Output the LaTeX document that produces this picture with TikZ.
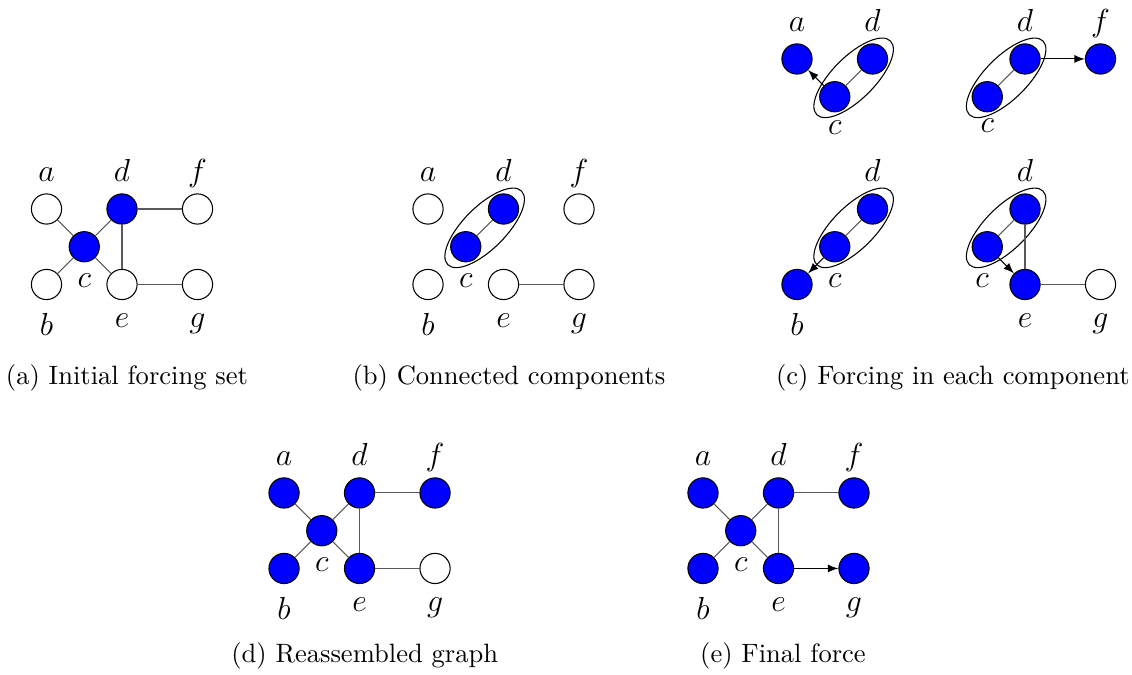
\documentclass[tikz,border=0pt]{standalone}
\usetikzlibrary{positioning,shapes.geometric,arrows}
\begin{document}
\begin{tikzpicture}[
  vtx/.style={circle, draw, fill=white, minimum size=0.4cm, inner sep=0pt},
  blue vtx/.style={vtx, fill=blue},
  up lbl/.style={font=\large, inner sep=0pt, text depth=0pt},
  down lbl/.style={font=\large, inner sep=0pt},
  edge/.style={draw=black!65},
  force/.style={->, >=latex},
  comp/.style={draw, ellipse, rotate=45, minimum width=1.38cm, minimum height=0.56cm, inner sep=0pt},
  subcap/.style={font=\normalsize, anchor=base}
]
\useasboundingbox (0,0) rectangle (14.993,8.940);

% (a) Initial forcing set
\begin{scope}[shift={(0.616,6.172)}]
  \node[vtx] (a1) at (0,0) {};
  \node[blue vtx] (d1) at (1,0) {};
  \node[vtx] (f1) at (2,0) {};
  \node[blue vtx] (c1) at (0.5,-0.5) {};
  \node[vtx] (b1) at (0,-1) {};
  \node[vtx] (e1) at (1,-1) {};
  \node[vtx] (g1) at (2,-1) {};
\end{scope}
\node[up lbl, above=4.1pt of a1] (la1) {$a$};
\node[up lbl, above=4.1pt of d1] (ld1) {$d$};
\node[up lbl, above=4.1pt of f1] (lf1) {$f$};
\node[down lbl, below=4.1pt of c1] (lc1) {$c$};
\node[down lbl, below=4.9pt of b1] (lb1) {$b$};
\node[down lbl, below=4.9pt of e1] (le1) {$e$};
\node[down lbl, below=4.9pt of g1] (lg1) {$g$};
\foreach \u/\v in {a1/c1, b1/c1, c1/d1, c1/e1, d1/e1, d1/f1, e1/g1}
  \draw[edge] (\u) -- (\v);

% (b) Connected components
\begin{scope}[shift={(5.669,6.172)}]
  \node[vtx] (a2) at (0,0) {};
  \node[blue vtx] (d2) at (1,0) {};
  \node[vtx] (f2) at (2,0) {};
  \node[blue vtx] (c2) at (0.5,-0.5) {};
  \node[vtx] (b2) at (0,-1) {};
  \node[vtx] (e2) at (1,-1) {};
  \node[vtx] (g2) at (2,-1) {};
  \node[comp] (k2) at (0.75,-0.25) {};
\end{scope}
\node[up lbl, above=4.1pt of a2] (la2) {$a$};
\node[up lbl, above=4.1pt of d2] (ld2) {$d$};
\node[up lbl, above=4.1pt of f2] (lf2) {$f$};
\node[down lbl, below=4.1pt of c2] (lc2) {$c$};
\node[down lbl, below=4.9pt of b2] (lb2) {$b$};
\node[down lbl, below=4.9pt of e2] (le2) {$e$};
\node[down lbl, below=4.9pt of g2] (lg2) {$g$};
\draw[edge] (c2) -- (d2);
\draw[edge] (e2) -- (g2);

% (c) Forcing in each component
\begin{scope}[shift={(10.556,8.159)}]
  \node[blue vtx] (a3) at (0,0) {};
  \node[blue vtx] (d3) at (1,0) {};
  \node[blue vtx] (c3) at (0.5,-0.5) {};
  \node[comp] (k3) at (0.75,-0.25) {};
\end{scope}
\node[up lbl, above=4.1pt of a3] (la3) {$a$};
\node[up lbl, above=4.1pt of d3] (ld3) {$d$};
\node[down lbl, below=3pt of c3] (lc3) {$c$};
\draw[edge] (c3) -- (d3);
\draw[force] (c3) -- (a3);

\begin{scope}[shift={(12.576,8.159)}]
  \node[blue vtx] (d4) at (1,0) {};
  \node[blue vtx] (f4) at (2,0) {};
  \node[blue vtx] (c4) at (0.5,-0.5) {};
  \node[comp] (k4) at (0.75,-0.25) {};
\end{scope}
\node[up lbl, above=4.1pt of d4] (ld4) {$d$};
\node[up lbl, above=4.1pt of f4] (lf4) {$f$};
\node[down lbl, below=2.4pt of c4] (lc4) {$c$};
\draw[edge] (c4) -- (d4);
\draw[force] (d4) -- (f4);

\begin{scope}[shift={(10.556,6.172)}]
  \node[blue vtx] (d5) at (1,0) {};
  \node[blue vtx] (c5) at (0.5,-0.5) {};
  \node[blue vtx] (b5) at (0,-1) {};
  \node[comp] (k5) at (0.75,-0.25) {};
\end{scope}
\node[up lbl, above=4.1pt of d5] (ld5) {$d$};
\node[down lbl, below=4.1pt of c5] (lc5) {$c$};
\node[down lbl, below=4.9pt of b5] (lb5) {$b$};
\draw[edge] (c5) -- (d5);
\draw[force] (c5) -- (b5);

\begin{scope}[shift={(12.576,6.172)}]
  \node[blue vtx] (d6) at (1,0) {};
  \node[blue vtx] (c6) at (0.5,-0.5) {};
  \node[blue vtx] (e6) at (1,-1) {};
  \node[vtx] (g6) at (2,-1) {};
  \node[comp] (k6) at (0.75,-0.25) {};
\end{scope}
\node[up lbl, above=4.1pt of d6] (ld6) {$d$};
\node[down lbl, below=4.1pt of c6, xshift=-0.07cm] (lc6) {$c$};
\node[down lbl, below=4.9pt of e6] (le6) {$e$};
\node[down lbl, below=4.9pt of g6] (lg6) {$g$};
\foreach \u/\v in {c6/d6, d6/e6, e6/g6}
  \draw[edge] (\u) -- (\v);
\draw[force] (c6) -- (e6);

% (d) Reassembled graph
\begin{scope}[shift={(3.762,2.411)}]
  \node[blue vtx] (a7) at (0,0) {};
  \node[blue vtx] (d7) at (1,0) {};
  \node[blue vtx] (f7) at (2,0) {};
  \node[blue vtx] (c7) at (0.5,-0.5) {};
  \node[blue vtx] (b7) at (0,-1) {};
  \node[blue vtx] (e7) at (1,-1) {};
  \node[vtx] (g7) at (2,-1) {};
\end{scope}
\node[up lbl, above=4.1pt of a7] (la7) {$a$};
\node[up lbl, above=4.1pt of d7] (ld7) {$d$};
\node[up lbl, above=4.1pt of f7] (lf7) {$f$};
\node[down lbl, below=4.1pt of c7] (lc7) {$c$};
\node[down lbl, below=4.9pt of b7] (lb7) {$b$};
\node[down lbl, below=4.9pt of e7] (le7) {$e$};
\node[down lbl, below=4.9pt of g7] (lg7) {$g$};
\foreach \u/\v in {a7/c7, b7/c7, c7/d7, c7/e7, d7/e7, d7/f7, e7/g7}
  \draw[edge] (\u) -- (\v);

% (e) Final force
\begin{scope}[shift={(9.311,2.411)}]
  \node[blue vtx] (a8) at (0,0) {};
  \node[blue vtx] (d8) at (1,0) {};
  \node[blue vtx] (f8) at (2,0) {};
  \node[blue vtx] (c8) at (0.5,-0.5) {};
  \node[blue vtx] (b8) at (0,-1) {};
  \node[blue vtx] (e8) at (1,-1) {};
  \node[blue vtx] (g8) at (2,-1) {};
\end{scope}
\node[up lbl, above=4.1pt of a8] (la8) {$a$};
\node[up lbl, above=4.1pt of d8] (ld8) {$d$};
\node[up lbl, above=4.1pt of f8] (lf8) {$f$};
\node[down lbl, below=4.1pt of c8] (lc8) {$c$};
\node[down lbl, below=4.9pt of b8] (lb8) {$b$};
\node[down lbl, below=4.9pt of e8] (le8) {$e$};
\node[down lbl, below=4.9pt of g8] (lg8) {$g$};
\foreach \u/\v in {a8/c8, b8/c8, c8/d8, c8/e8, d8/e8, d8/f8}
  \draw[edge] (\u) -- (\v);
\draw[force] (e8) -- (g8);

% Captions
\node[subcap] (capa) at (1.682,3.854) {(a) Initial forcing set};
\node[subcap] (capb) at (6.74,3.854) {(b) Connected components};
\node[subcap] (capc) at (12.62,3.854) {(c) Forcing in each component};
\node[subcap] (capd) at (4.83,0.159) {(d) Reassembled graph};
\node[subcap] (cape) at (10.37,0.159) {(e) Final force};

\end{tikzpicture}
\end{document}
